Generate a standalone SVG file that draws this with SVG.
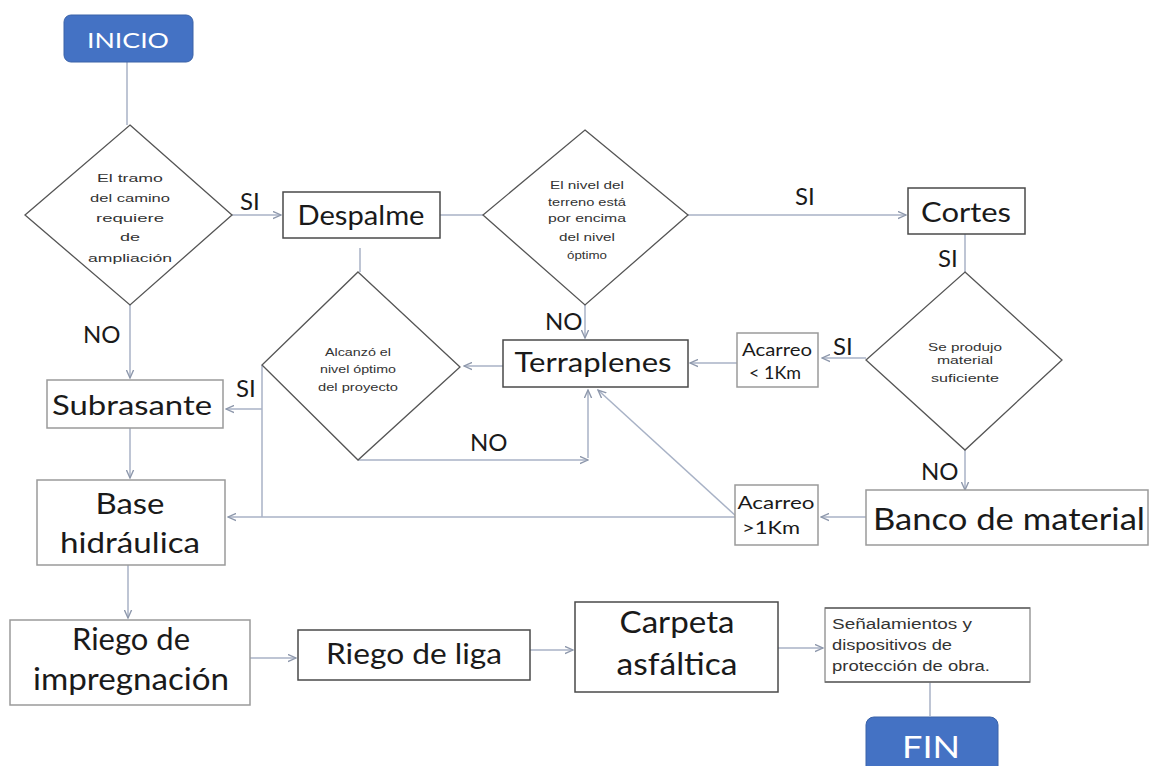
<svg xmlns="http://www.w3.org/2000/svg" width="1151" height="766" viewBox="0 0 1151 766">
<style>
.box{fill:#fff;stroke:#4a4a4a;stroke-width:1.5}
.lbox{fill:#fff;stroke:#9a9a9a;stroke-width:1.5}
.dia{fill:#fff;stroke:#555;stroke-width:1.3}
.term{fill:#4472C4;stroke:#3a62a8;stroke-width:1}
.t{font-family:Lato,"Liberation Sans",sans-serif;fill:#1a1a1a;text-anchor:middle}
.s{font-family:"Liberation Sans",Arial,sans-serif;fill:#333;text-anchor:middle;font-size:11px}
.w{font-family:Lato,"Liberation Sans",sans-serif;fill:#fff;text-anchor:middle}
.c{fill:none;stroke:#a8b2c6;stroke-width:1.5}
</style>
<defs>
<marker id="ah" viewBox="0 0 10 10" refX="9" refY="5" markerWidth="6" markerHeight="6" orient="auto">
<path d="M0,1 L9,5 L0,9" fill="none" stroke="#8d97ab" stroke-width="1.5"/>
</marker>
</defs>

<g id="connectors">
<path class="c" d="M127,62 V125"/>
<path class="c" d="M232,215 H281" marker-end="url(#ah)"/>
<path class="c" d="M440,215 H483"/>
<path class="c" d="M688,215 H906" marker-end="url(#ah)"/>
<path class="c" d="M965,234 V272"/>
<path class="c" d="M965,450 V490" marker-end="url(#ah)"/>
<path class="c" d="M866,358 H822" marker-end="url(#ah)"/>
<path class="c" d="M737,363 H690" marker-end="url(#ah)"/>
<path class="c" d="M585,305 V338" marker-end="url(#ah)"/>
<path class="c" d="M360,248 V272"/>
<path class="c" d="M503,366 H464" marker-end="url(#ah)"/>
<path class="c" d="M358,460 H588" marker-end="url(#ah)"/>
<path class="c" d="M588,458 V390" marker-end="url(#ah)"/>
<path class="c" d="M737,517 L598,390" marker-end="url(#ah)"/>
<path class="c" d="M262,365 V517"/>
<path class="c" d="M262,409 H226" marker-end="url(#ah)"/>
<path class="c" d="M735,517 H228" marker-end="url(#ah)"/>
<path class="c" d="M866,517 H821" marker-end="url(#ah)"/>
<path class="c" d="M130,305 V378" marker-end="url(#ah)"/>
<path class="c" d="M130,428 V478" marker-end="url(#ah)"/>
<path class="c" d="M128,565 V618" marker-end="url(#ah)"/>
<path class="c" d="M250,658 H296" marker-end="url(#ah)"/>
<path class="c" d="M530,650 H573" marker-end="url(#ah)"/>
<path class="c" d="M778,648 H823" marker-end="url(#ah)"/>
<path class="c" d="M930,682 V716"/>
</g>

<g id="inicio">
<rect class="term" x="64" y="15" width="129" height="47" rx="7"/>
<text class="w" x="128" y="48" font-size="22" textLength="82" lengthAdjust="spacingAndGlyphs">INICIO</text>
</g>

<g id="d1">
<polygon class="dia" points="130,125 232,215 130,305 25,215"/>
<text class="s" x="130" y="182" font-size="12" textLength="66" lengthAdjust="spacingAndGlyphs">El tramo</text>
<text class="s" x="130" y="202" font-size="12" textLength="80" lengthAdjust="spacingAndGlyphs">del camino</text>
<text class="s" x="130" y="222" font-size="12" textLength="68" lengthAdjust="spacingAndGlyphs">requiere</text>
<text class="s" x="130" y="241" font-size="12" textLength="20" lengthAdjust="spacingAndGlyphs">de</text>
<text class="s" x="130" y="262" font-size="12" textLength="84" lengthAdjust="spacingAndGlyphs">ampliación</text>
</g>

<g id="despalme">
<rect class="box" x="283" y="192" width="157" height="46"/>
<text class="t" x="361" y="225" font-size="26" textLength="127" lengthAdjust="spacingAndGlyphs">Despalme</text>
</g>

<g id="d2">
<polygon class="dia" points="585,130 688,215 585,305 483,215"/>
<text class="s" x="587" y="189" textLength="74" lengthAdjust="spacingAndGlyphs">El nivel del</text>
<text class="s" x="587" y="206" textLength="78" lengthAdjust="spacingAndGlyphs">terreno está</text>
<text class="s" x="587" y="222" textLength="78" lengthAdjust="spacingAndGlyphs">por encima</text>
<text class="s" x="587" y="241" textLength="56" lengthAdjust="spacingAndGlyphs">del nivel</text>
<text class="s" x="587" y="259" textLength="40" lengthAdjust="spacingAndGlyphs">óptimo</text>
</g>

<g id="cortes">
<rect class="box" x="908" y="188" width="117" height="46"/>
<text class="t" x="966" y="222" font-size="26" textLength="90" lengthAdjust="spacingAndGlyphs">Cortes</text>
</g>

<g id="d4">
<polygon class="dia" points="965,272 1062,360 965,450 866,360"/>
<text class="s" x="965" y="351" textLength="74" lengthAdjust="spacingAndGlyphs">Se produjo</text>
<text class="s" x="965" y="364" textLength="56" lengthAdjust="spacingAndGlyphs">material</text>
<text class="s" x="965" y="382" textLength="68" lengthAdjust="spacingAndGlyphs">suficiente</text>
</g>

<g id="acarreo1">
<rect class="lbox" x="737" y="333" width="81" height="54"/>
<text class="t" x="777" y="356" font-size="17" textLength="70" lengthAdjust="spacingAndGlyphs">Acarreo</text>
<text class="t" x="775" y="379" font-size="17" textLength="52" lengthAdjust="spacingAndGlyphs">&lt; 1Km</text>
</g>

<g id="terraplenes">
<rect class="box" x="503" y="340" width="185" height="47"/>
<text class="t" x="593" y="372" font-size="26" textLength="157" lengthAdjust="spacingAndGlyphs">Terraplenes</text>
</g>

<g id="d3">
<polygon class="dia" points="358,272 460,367 358,460 262,365"/>
<text class="s" x="358" y="356" textLength="66" lengthAdjust="spacingAndGlyphs">Alcanzó el</text>
<text class="s" x="358" y="373" textLength="76" lengthAdjust="spacingAndGlyphs">nivel óptimo</text>
<text class="s" x="358" y="391" textLength="80" lengthAdjust="spacingAndGlyphs">del proyecto</text>
</g>

<g id="subrasante">
<rect class="lbox" x="47" y="380" width="176" height="48"/>
<text class="t" x="132" y="415" font-size="26" textLength="160" lengthAdjust="spacingAndGlyphs">Subrasante</text>
</g>

<g id="base">
<rect class="lbox" x="37" y="480" width="188" height="85"/>
<text class="t" x="130" y="514" font-size="28" textLength="69" lengthAdjust="spacingAndGlyphs">Base</text>
<text class="t" x="130" y="553" font-size="28" textLength="140" lengthAdjust="spacingAndGlyphs">hidráulica</text>
</g>

<g id="acarreo2">
<rect class="lbox" x="735" y="485" width="83" height="60"/>
<text class="t" x="776" y="509" font-size="17" textLength="77" lengthAdjust="spacingAndGlyphs">Acarreo</text>
<text class="t" x="771" y="534" font-size="17" textLength="58" lengthAdjust="spacingAndGlyphs">&gt;1Km</text>
</g>

<g id="banco">
<rect class="lbox" x="866" y="490" width="282" height="55" stroke="#c8c8c8"/>
<text class="t" x="1009" y="530" font-size="30" textLength="272" lengthAdjust="spacingAndGlyphs">Banco de material</text>
</g>

<g id="riego-imp">
<rect class="lbox" x="10" y="620" width="240" height="85"/>
<text class="t" x="131" y="650" font-size="30" textLength="118" lengthAdjust="spacingAndGlyphs">Riego de</text>
<text class="t" x="131" y="690" font-size="30" textLength="196" lengthAdjust="spacingAndGlyphs">impregnación</text>
</g>

<g id="riego-liga">
<rect class="box" x="298" y="630" width="232" height="50"/>
<text class="t" x="414" y="664" font-size="28" textLength="176" lengthAdjust="spacingAndGlyphs">Riego de liga</text>
</g>

<g id="carpeta">
<rect class="box" x="575" y="602" width="203" height="90"/>
<text class="t" x="677" y="633" font-size="30" textLength="115" lengthAdjust="spacingAndGlyphs">Carpeta</text>
<text class="t" x="677" y="675" font-size="30" textLength="121" lengthAdjust="spacingAndGlyphs">asfáltica</text>
</g>

<g id="senal">
<rect class="lbox" x="825" y="608" width="205" height="74" stroke="#d0d0d0"/>
<line x1="825" y1="608" x2="1030" y2="608" stroke="#666" stroke-width="1.5"/>
<line x1="825" y1="682" x2="1030" y2="682" stroke="#666" stroke-width="1.5"/>
<text font-family="'Liberation Sans',Arial,sans-serif" font-size="14" fill="#333" x="832" y="629" textLength="140" lengthAdjust="spacingAndGlyphs">Señalamientos y</text>
<text font-family="'Liberation Sans',Arial,sans-serif" font-size="14" fill="#333" x="832" y="650" textLength="120" lengthAdjust="spacingAndGlyphs">dispositivos de</text>
<text font-family="'Liberation Sans',Arial,sans-serif" font-size="14" fill="#333" x="832" y="671" textLength="158" lengthAdjust="spacingAndGlyphs">protección de obra.</text>
</g>

<g id="fin">
<rect class="term" x="866" y="717" width="132" height="60" rx="8"/>
<text class="w" x="931" y="758" font-size="30" textLength="58" lengthAdjust="spacingAndGlyphs">FIN</text>
</g>

<g id="labels" font-family="Lato,'Liberation Sans',sans-serif" font-size="24" fill="#1a1a1a">
<text x="240" y="210">SI</text>
<text x="795" y="205">SI</text>
<text x="938" y="267">SI</text>
<text x="545" y="330">NO</text>
<text x="833" y="355">SI</text>
<text x="83" y="343">NO</text>
<text x="236" y="397">SI</text>
<text x="470" y="451">NO</text>
<text x="921" y="480">NO</text>
</g>
</svg>
